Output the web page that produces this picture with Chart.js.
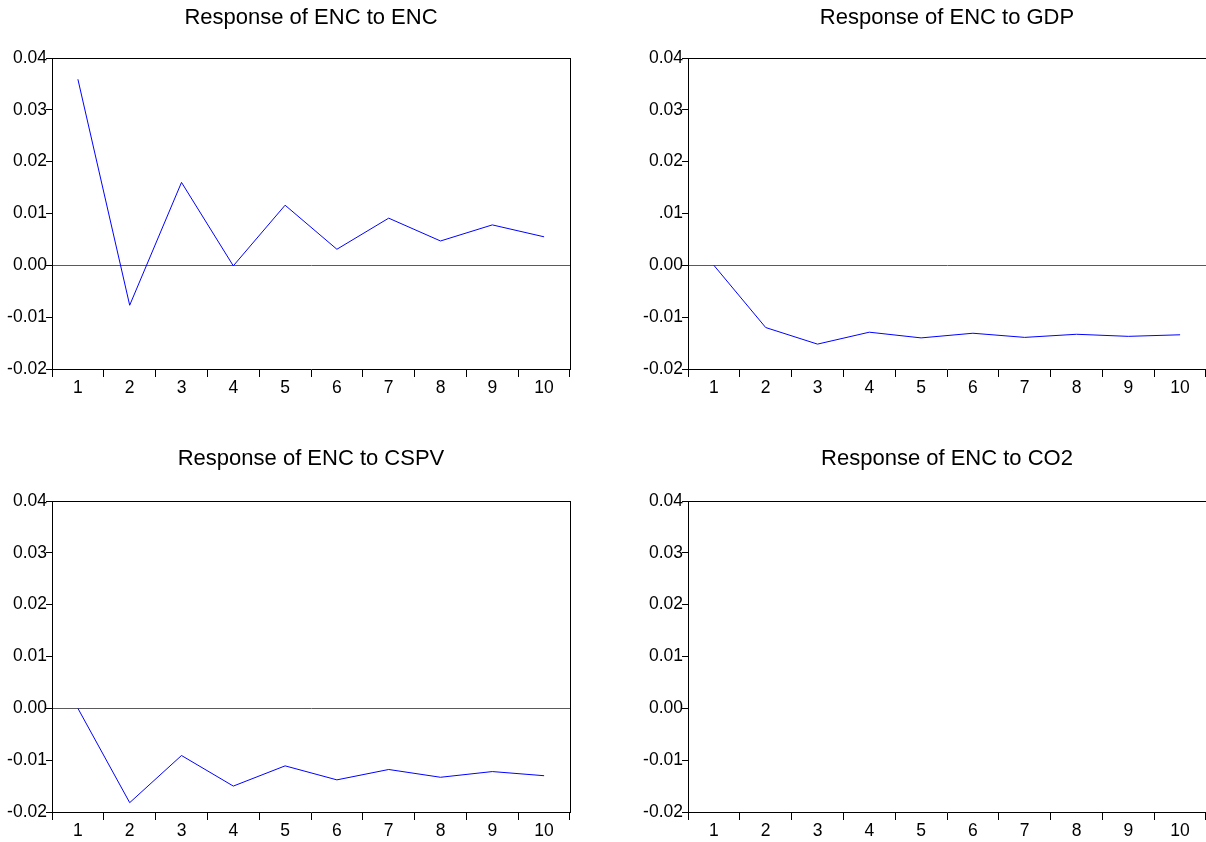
<!DOCTYPE html>
<html>
<head>
<meta charset="utf-8">
<script src="https://cdn.jsdelivr.net/npm/chart.js@4/dist/chart.umd.min.js"></script>
<style>
  html, body { margin: 0; padding: 0; background: #fff; overflow: hidden; }
  #wrap { position: relative; width: 1206px; height: 842px; overflow: hidden; }
  canvas { position: absolute; }
  #enc_canvas { left: 0; top: 0; }
  #gdp_canvas { left: 636px; top: 0; }
  #cspv_canvas { left: 0; top: 421px; }
  #co2_canvas { left: 636px; top: 421px; }
</style>
</head>
<body>
<div id="wrap">
  <canvas id="enc_canvas" width="622" height="421"></canvas>
  <canvas id="gdp_canvas" width="622" height="421"></canvas>
  <canvas id="cspv_canvas" width="622" height="421"></canvas>
  <canvas id="co2_canvas" width="622" height="421"></canvas>
</div>
<script>
/*
----------------------
Data: response of ENC over 10 periods
----------------------
*/
var periods = ["1", "2", "3", "4", "5", "6", "7", "8", "9", "10"];

var enc_to_enc = [0.0359, -0.0077, 0.0160, -0.0001, 0.0116, 0.0031, 0.0091, 0.0047, 0.0078, 0.0055];
var enc_to_gdp = [0.0, -0.0120, -0.0152, -0.0129, -0.0140, -0.0131, -0.0139, -0.0133, -0.0137, -0.0134];
var enc_to_cspv = [0.0, -0.0182, -0.0091, -0.0150, -0.0111, -0.0138, -0.0118, -0.0133, -0.0122, -0.0130];
var enc_to_co2 = [];

var y_tick_values = [-0.02, -0.01, 0.0, 0.01, 0.02, 0.03, 0.04];
var y_tick_labels = ["-0.02", "-0.01", "0.00", "0.01", "0.02", "0.03", "0.04"];
var gdp_tick_labels = ["-0.02", "-0.01", "0.00", ".01", "0.02", "0.03", "0.04"];

Chart.defaults.font.family = '"Liberation Sans", Arial, sans-serif';
Chart.defaults.color = "#000";

/*
----------------------
Draws the top line (and right line, if wanted) of the plot frame
----------------------
*/
var frame_plugin = {
  id: "frame",
  afterDraw: function (chart, args, opts) {
    var area = chart.chartArea;
    var ctx = chart.ctx;
    var top = Math.round(area.top - 0.5) + 0.5;
    var right = Math.round(area.right - 0.5) + 0.5;
    ctx.save();
    ctx.strokeStyle = "#000";
    ctx.lineWidth = 1;
    ctx.beginPath();
    ctx.moveTo(area.left, top);
    ctx.lineTo(area.right, top);
    if (opts.right) {
      ctx.moveTo(right, area.top);
      ctx.lineTo(right, area.bottom);
    }
    ctx.stroke();
    ctx.restore();
  }
};

/*
----------------------
Builds one panel
- the canvas is wider than the plot, and an empty right axis keeps the
  plot symmetric so the title sits centred over the plot area
----------------------
*/
function make_panel(canvas_id, title, values, tick_labels, panel) {
  var ctx = document.getElementById(canvas_id).getContext("2d");

  return new Chart(ctx, {
    type: "line",
    data: {
      labels: periods,
      datasets: [
        {
          data: values,
          borderColor: "#0000ff",
          borderWidth: 1,
          pointRadius: 0,
          fill: false,
          tension: 0
        }
      ]
    },
    plugins: [frame_plugin],
    options: {
      responsive: false,
      animation: false,
      events: [],
      layout: {
        padding: 0
      },
      plugins: {
        legend: { display: false },
        tooltip: { enabled: false },
        frame: { right: panel.right_line },
        title: {
          display: true,
          text: title,
          color: "#000",
          font: { size: 22, weight: "normal" },
          padding: { top: panel.title_top, bottom: panel.title_bottom }
        }
      },
      scales: {
        x: {
          type: "category",
          offset: true,
          afterFit: function (scale) {
            scale.height = panel.x_height;
          },
          grid: {
            offset: true,
            drawOnChartArea: false,
            drawTicks: true,
            tickLength: 8,
            tickColor: "#000"
          },
          border: { color: "#000", width: 1 },
          ticks: {
            color: "#000",
            font: { size: 17.5 },
            padding: 1,
            maxRotation: 0,
            autoSkip: false
          }
        },
        y: {
          type: "linear",
          min: -0.02,
          max: 0.04,
          afterFit: function (scale) {
            scale.width = 52;
          },
          afterBuildTicks: function (scale) {
            scale.ticks = y_tick_values.map(function (v) {
              return { value: v };
            });
          },
          grid: {
            drawTicks: true,
            tickLength: 6,
            tickColor: "#000",
            color: function (c) {
              if (panel.zero_line && c.tick && Math.abs(c.tick.value) < 1e-9) {
                return "#5a5a5a";
              }
              return "rgba(0,0,0,0)";
            }
          },
          border: { color: "#000", width: 1 },
          ticks: {
            color: "#000",
            font: { size: 17.5 },
            padding: -1,
            callback: function (value, index) {
              return tick_labels[index];
            }
          }
        },
        spacer: {
          type: "linear",
          position: "right",
          min: -0.02,
          max: 0.04,
          afterFit: function (scale) {
            scale.width = 52;
          },
          grid: { display: false, drawTicks: false },
          border: { display: false },
          ticks: { display: false }
        }
      }
    }
  });
}

var top_left = { right_line: true, zero_line: true, x_height: 52, title_top: 5.2, title_bottom: 26.4 };
var top_right = { right_line: false, zero_line: true, x_height: 52, title_top: 5.2, title_bottom: 26.4 };
var bottom_left = { right_line: true, zero_line: true, x_height: 30, title_top: 25.2, title_bottom: 28.4 };
var bottom_right = { right_line: false, zero_line: false, x_height: 30, title_top: 25.2, title_bottom: 28.4 };

make_panel("enc_canvas", "Response of ENC to ENC", enc_to_enc, y_tick_labels, top_left);
make_panel("gdp_canvas", "Response of ENC to GDP", enc_to_gdp, gdp_tick_labels, top_right);
make_panel("cspv_canvas", "Response of ENC to CSPV", enc_to_cspv, y_tick_labels, bottom_left);
make_panel("co2_canvas", "Response of ENC to CO2", enc_to_co2, y_tick_labels, bottom_right);
</script>
</body>
</html>
